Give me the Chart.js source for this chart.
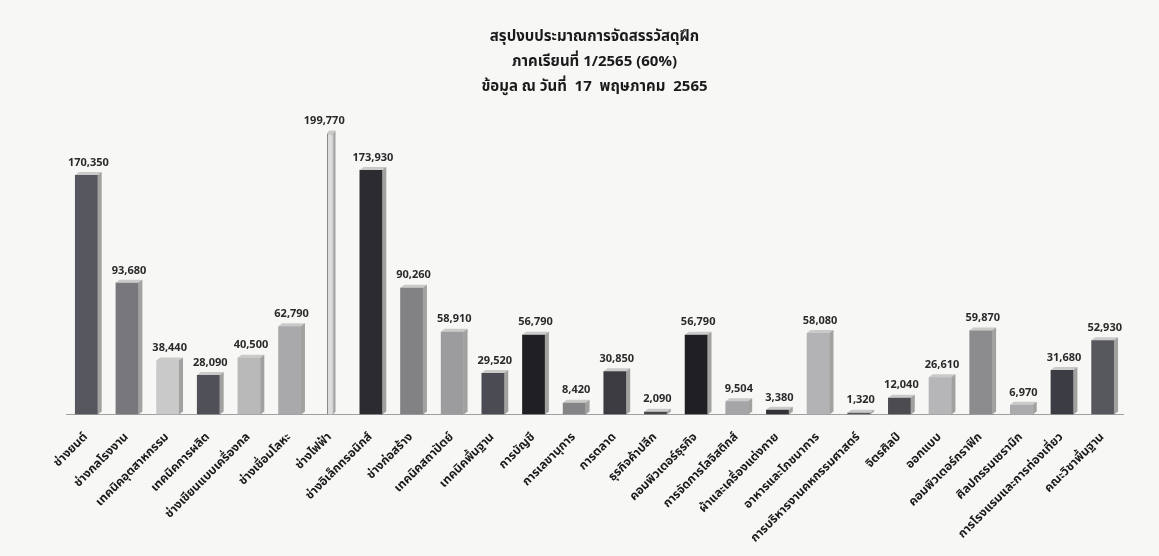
<!DOCTYPE html>
<html>
<head>
<meta charset="utf-8">
<script src="https://cdn.jsdelivr.net/npm/chart.js@4.4.0/dist/chart.umd.min.js"></script>
<style>
  html, body { margin: 0; padding: 0; background: #f7f7f6; }
  #wrap { width: 1159px; height: 556px; position: relative; }
</style>
</head>
<body>
<div id="wrap"><canvas id="budgetChart" width="1159" height="556"></canvas></div>
<script>
// สาขาวิชา
const categories = [
  'ช่างยนต์', 'ช่างกลโรงงาน', 'เทคนิคอุตสาหกรรม', 'เทคนิคการผลิต', 'ช่างเขียนแบบเครื่องกล',
  'ช่างเชื่อมโลหะ', 'ช่างไฟฟ้า', 'ช่างอิเล็กทรอนิกส์', 'ช่างก่อสร้าง', 'เทคนิคสถาปัตย์',
  'เทคนิคพื้นฐาน', 'การบัญชี', 'การเลขานุการ', 'การตลาด', 'ธุรกิจค้าปลีก',
  'คอมพิวเตอร์ธุรกิจ', 'การจัดการโลจิสติกส์', 'ผ้าและเครื่องแต่งกาย', 'อาหารและโภชนาการ',
  'การบริหารงานคหกรรมศาสตร์', 'จิตรศิลป์', 'ออกแบบ', 'คอมพิวเตอร์กราฟิก', 'ศิลปกรรมเซรามิก',
  'การโรงแรมและการท่องเที่ยว', 'คณะวิชาพื้นฐาน'
];

// งบประมาณ (บาท)
const budget = [
  170350, 93680, 38440, 28090, 40500,
  62790, 199770, 173930, 90260, 58910,
  29520, 56790, 8420, 30850, 2090,
  56790, 9504, 3380, 58080,
  1320, 12040, 26610, 59870, 6970,
  31680, 52930
];

const barColors = [
  '#56565f', '#78787c', '#c9c9c9', '#505058', '#b9b9b9',
  '#a9a9ab', '#dcdcdc', '#2b2b30', '#828284', '#9c9c9e',
  '#4b4b53', '#202024', '#858587', '#3b3b41', '#46464a',
  '#202024', '#a5a5a7', '#323237', '#b3b3b5',
  '#5a5a5e', '#4c4c50', '#b6b6b8', '#8c8c8e', '#ababad',
  '#3c3c44', '#57575e'
];

// ช่างไฟฟ้า is drawn as a thin bar in the original
const thinIndex = 6;

const titleLines = [
  'สรุปงบประมาณการจัดสรรวัสดุฝึก',
  'ภาคเรียนที่ 1/2565 (60%)',
  'ข้อมูล ณ วันที่  17  พฤษภาคม  2565'
];

const thaiFont = "Tahoma, 'Noto Sans Thai', 'Noto Sans', 'DejaVu Sans', sans-serif";

// draws a side face on each bar plus the value above it
const barExtras = {
  id: 'barExtras',
  afterDatasetsDraw(chart) {
    const ctx = chart.ctx;
    ctx.save();
    chart.data.datasets.forEach((ds, d) => {
      const meta = chart.getDatasetMeta(d);
      meta.data.forEach((bar, i) => {
        if (ds.data[i] == null) return;
        const w = bar.width;
        const right = bar.x + w / 2;
        const depth = i === thinIndex ? 2 : 4;
        ctx.fillStyle = 'rgba(0,0,0,0.35)';
        ctx.beginPath();
        ctx.moveTo(right, bar.y);
        ctx.lineTo(right + depth, bar.y - 3);
        ctx.lineTo(right + depth, bar.base - 3);
        ctx.lineTo(right, bar.base);
        ctx.closePath();
        ctx.fill();
        ctx.fillStyle = 'rgba(0,0,0,0.18)';
        ctx.beginPath();
        ctx.moveTo(bar.x - w / 2, bar.y);
        ctx.lineTo(bar.x - w / 2 + depth, bar.y - 3);
        ctx.lineTo(right + depth, bar.y - 3);
        ctx.lineTo(right, bar.y);
        ctx.closePath();
        ctx.fill();

        ctx.fillStyle = '#2a2a2a';
        ctx.font = "bold 11px " + thaiFont;
        ctx.textAlign = 'center';
        ctx.textBaseline = 'bottom';
        const lx = i === thinIndex ? bar.x - 6 : bar.x + 2;
        ctx.fillText(ds.data[i].toLocaleString('en-US'), lx, bar.y - 6);
      });
    });
    ctx.restore();
  }
};

new Chart(document.getElementById('budgetChart'), {
  type: 'bar',
  data: {
    labels: categories,
    datasets: [{
      data: budget.map((v, i) => i === thinIndex ? null : v),
      backgroundColor: barColors,
      borderWidth: 0,
      barPercentage: 0.56,
      categoryPercentage: 1,
      grouped: false
    }, {
      data: budget.map((v, i) => i === thinIndex ? v : null),
      backgroundColor: barColors,
      borderColor: '#8a8a8a',
      borderWidth: 1,
      barPercentage: 0.16,
      categoryPercentage: 1,
      grouped: false
    }]
  },
  options: {
    responsive: false,
    animation: false,
    layout: { padding: { left: 66, right: 36, top: 4, bottom: 2 } },
    plugins: {
      legend: { display: false },
      tooltip: { enabled: false },
      title: {
        display: true,
        text: titleLines,
        color: '#1a1a1a',
        font: { family: thaiFont, size: 15, weight: 'bold', lineHeight: 1.65 },
        padding: { top: 22, bottom: 26 }
      }
    },
    scales: {
      x: {
        grid: { display: false },
        border: { display: true, color: '#a0a0a0', width: 1 },
        ticks: {
          color: '#1a1a1a',
          font: { family: thaiFont, size: 12, weight: 'bold' },
          maxRotation: 45,
          minRotation: 45,
          autoSkip: false,
          padding: 8
        }
      },
      y: {
        display: false,
        min: 0,
        max: 205000
      }
    }
  },
  plugins: [barExtras]
});
</script>
</body>
</html>
